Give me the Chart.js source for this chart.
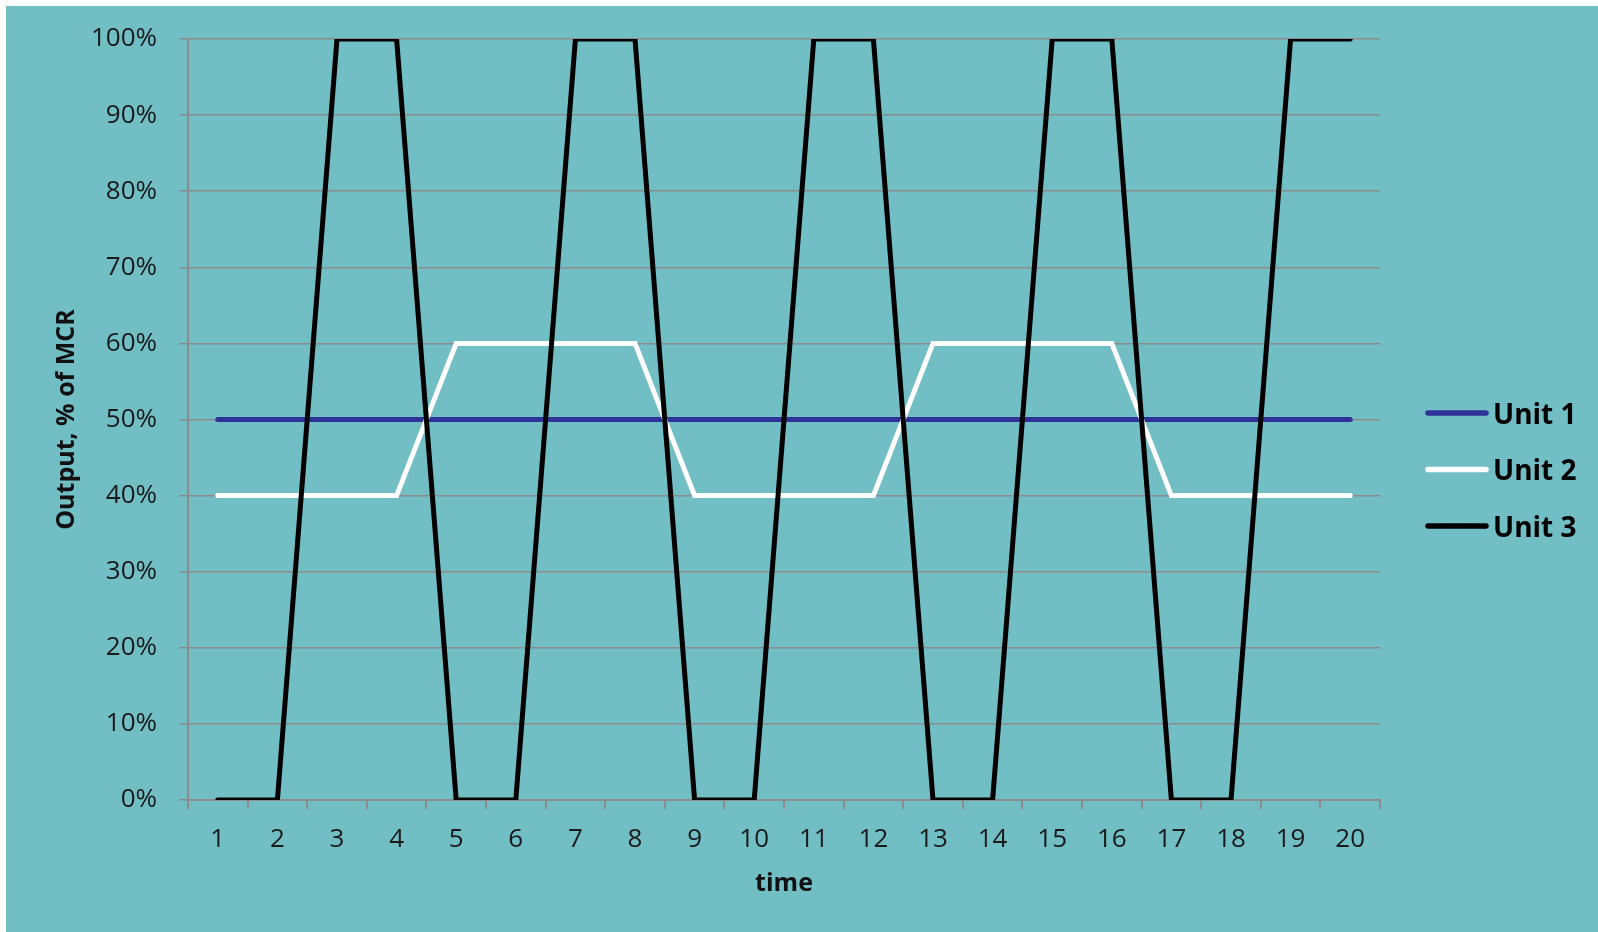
<!DOCTYPE html>
<html>
<head>
<meta charset="utf-8">
<script src="https://cdn.jsdelivr.net/npm/chart.js@4/dist/chart.umd.min.js"></script>
<style>
  html, body { margin: 0; padding: 0; background: #ffffff; }
  #wrap { position: relative; width: 1598px; height: 932px; }
  canvas { display: block; }
</style>
</head>
<body>
<div id="wrap"><canvas id="c" width="1598" height="932"></canvas></div>
<script>
// Time steps along the horizontal axis
const timeSteps = ['1', '2', '3', '4', '5', '6', '7', '8', '9', '10',
                   '11', '12', '13', '14', '15', '16', '17', '18', '19', '20'];

// Output of each unit, % of MCR
const unit1 = [50, 50, 50, 50, 50, 50, 50, 50, 50, 50, 50, 50, 50, 50, 50, 50, 50, 50, 50, 50];
const unit2 = [40, 40, 40, 40, 60, 60, 60, 60, 40, 40, 40, 40, 60, 60, 60, 60, 40, 40, 40, 40];
const unit3 = [0, 0, 100, 100, 0, 0, 100, 100, 0, 0, 100, 100, 0, 0, 100, 100, 0, 0, 100, 100];

const seriesNames = ['Unit 1', 'Unit 2', 'Unit 3'];

const FONT = "'Open Sans', 'DejaVu Sans', sans-serif";
const TEAL = '#71BEC5';
const GRID = '#8C8C8C';

Chart.defaults.font.family = FONT;

// Page frame: white margin with the teal chart panel
const panelPlugin = {
  id: 'panel',
  beforeDraw(chart) {
    const ctx = chart.ctx;
    ctx.save();
    ctx.fillStyle = '#ffffff';
    ctx.fillRect(0, 0, chart.width, chart.height);
    ctx.fillStyle = TEAL;
    ctx.fillRect(6, 6, chart.width - 6, chart.height - 6);
    ctx.restore();
  }
};

// Legend on the right: short line sample followed by the series name
const sideLegend = {
  id: 'sideLegend',
  afterDraw(chart) {
    const ctx = chart.ctx;
    const x0 = 1428, x1 = 1486, textX = 1493, y0 = 413, step = 56.5;
    chart.data.datasets.forEach((ds, i) => {
      const y = y0 + i * step;
      ctx.save();
      ctx.strokeStyle = ds.borderColor;
      ctx.lineWidth = 5.5;
      ctx.lineCap = 'round';
      ctx.beginPath();
      ctx.moveTo(x0, y);
      ctx.lineTo(x1, y);
      ctx.stroke();
      ctx.font = 'bold 28px ' + FONT;
      ctx.fillStyle = '#000000';
      ctx.textAlign = 'left';
      ctx.textBaseline = 'alphabetic';
      ctx.fillText(ds.label, textX, y + 10.5);
      ctx.restore();
    });
  }
};

new Chart(document.getElementById('c'), {
  type: 'line',
  data: {
    labels: timeSteps,
    datasets: [
      { label: seriesNames[0], data: unit1, borderColor: '#2E3196', order: 3 },
      { label: seriesNames[1], data: unit2, borderColor: '#FFFFFF', order: 2 },
      { label: seriesNames[2], data: unit3, borderColor: '#000000', order: 1 }
    ]
  },
  options: {
    responsive: false,
    devicePixelRatio: 1,
    animation: false,
    layout: { padding: { left: 0, top: 39, right: 218, bottom: 0 } },
    elements: {
      line: { borderWidth: 5, tension: 0, borderCapStyle: 'round', borderJoinStyle: 'miter', fill: false },
      point: { radius: 0, hoverRadius: 0 }
    },
    plugins: {
      legend: { display: false },
      tooltip: { enabled: false }
    },
    scales: {
      x: {
        type: 'category',
        offset: true,
        grid: {
          offset: true,
          drawOnChartArea: false,
          drawTicks: true,
          tickLength: 9,
          color: GRID,
          lineWidth: 2
        },
        border: { display: true, color: GRID, width: 2 },
        ticks: {
          color: '#1a1a1a',
          font: { size: 26 },
          padding: 15,
          maxRotation: 0,
          autoSkip: false
        },
        title: {
          display: true,
          text: 'time',
          color: '#111111',
          font: { size: 25, weight: 'bold' },
          padding: { top: 0, bottom: 33 }
        },
        afterFit(scale) { scale.height = 132; }
      },
      y: {
        min: 0,
        max: 100,
        ticks: {
          stepSize: 10,
          color: '#1a1a1a',
          font: { size: 26 },
          padding: 22,
          callback: (v) => v + '%'
        },
        grid: {
          color: GRID,
          lineWidth: 1.5,
          drawTicks: true,
          tickLength: 9
        },
        border: { display: true, color: GRID, width: 2 },
        title: {
          display: true,
          text: 'Output, % of MCR',
          color: '#111111',
          font: { size: 25, weight: 'bold' },
          padding: { top: 52, bottom: 0 }
        },
        afterFit(scale) { scale.width = 188; }
      }
    }
  },
  plugins: [panelPlugin, sideLegend]
});
</script>
</body>
</html>
